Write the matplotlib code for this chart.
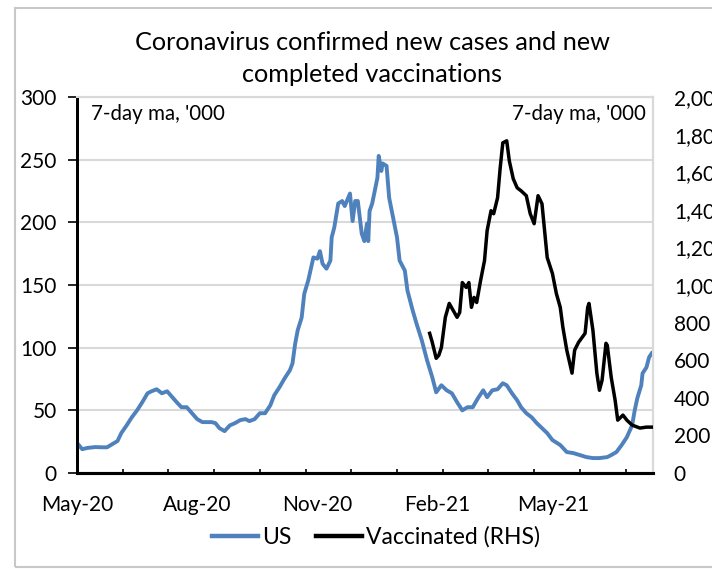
import matplotlib
matplotlib.use('Agg')
import matplotlib.pyplot as plt
import matplotlib.dates as mdates
import matplotlib.patches as patches
import numpy as np

plt.rcParams['font.family'] = ['Lato', 'DejaVu Sans']

# US new cases, 7-day ma, '000 (left axis)
us_dates = ['2020-05-01', '2020-05-05', '2020-05-09', '2020-05-15', '2020-05-20', '2020-05-24',
            '2020-05-28', '2020-06-01', '2020-06-04', '2020-06-08', '2020-06-12', '2020-06-16',
            '2020-06-20', '2020-06-24', '2020-06-27', '2020-07-01', '2020-07-05', '2020-07-09',
            '2020-07-13', '2020-07-17', '2020-07-20', '2020-07-24', '2020-07-28', '2020-08-01',
            '2020-08-05', '2020-08-08', '2020-08-12', '2020-08-15', '2020-08-18', '2020-08-22',
            '2020-08-26', '2020-08-30', '2020-09-03', '2020-09-07', '2020-09-10', '2020-09-14',
            '2020-09-18', '2020-09-22', '2020-09-26', '2020-09-29', '2020-10-03', '2020-10-07',
            '2020-10-11', '2020-10-13', '2020-10-15', '2020-10-17', '2020-10-20', '2020-10-22',
            '2020-10-25', '2020-10-29', '2020-11-01', '2020-11-03', '2020-11-05', '2020-11-08',
            '2020-11-11', '2020-11-12', '2020-11-14', '2020-11-17', '2020-11-20', '2020-11-22',
            '2020-11-26', '2020-11-28', '2020-11-30', '2020-12-02', '2020-12-05', '2020-12-07',
            '2020-12-09', '2020-12-10', '2020-12-11', '2020-12-13', '2020-12-17', '2020-12-18',
            '2020-12-20', '2020-12-21', '2020-12-24', '2020-12-26', '2020-12-29', '2021-01-01',
            '2021-01-03', '2021-01-07', '2021-01-09', '2021-01-13', '2021-01-16', '2021-01-20',
            '2021-01-24', '2021-01-28', '2021-01-31', '2021-02-04', '2021-02-08', '2021-02-12',
            '2021-02-16', '2021-02-20', '2021-02-24', '2021-02-28', '2021-03-04', '2021-03-08',
            '2021-03-11', '2021-03-15', '2021-03-19', '2021-03-23', '2021-03-26', '2021-03-30',
            '2021-04-03', '2021-04-06', '2021-04-10', '2021-04-14', '2021-04-18', '2021-04-22',
            '2021-04-26', '2021-04-30', '2021-05-06', '2021-05-11', '2021-05-16', '2021-05-21',
            '2021-05-26', '2021-05-31', '2021-06-05', '2021-06-11', '2021-06-14', '2021-06-18',
            '2021-06-22', '2021-06-26', '2021-06-30', '2021-07-02', '2021-07-04', '2021-07-07',
            '2021-07-08', '2021-07-11', '2021-07-13', '2021-07-15']
us_cases = [24, 19, 20, 20.7, 20.5, 20.5,
            23, 25.5, 32, 38, 44.5, 50,
            56.5, 63.6, 65.2, 66.8, 63.6, 65.2,
            60.5, 55.7, 52.5, 52.5, 47.7, 43,
            40.6, 40.6, 40.6, 39.8, 35.8, 33.4,
            38, 39.8, 42.2, 43, 41.4, 43,
            47.7, 47.7, 54, 62, 68.4, 75.6,
            82, 87.5, 103, 114, 124, 143,
            153.5, 172, 171, 177, 167, 163,
            169.5, 188, 196, 215, 217, 213,
            223, 201, 217, 217, 191, 185,
            199, 185, 209, 215, 235.5, 253,
            241, 247, 245, 219.6, 203.7, 188,
            169.5, 161.5, 145.6, 129.7, 119, 105.8,
            90, 76.4, 64.4, 70, 66, 63.6,
            56.5, 50, 52.5, 52.5, 59.7, 66,
            60.5, 66, 66.8, 71.6, 70, 63.6,
            58, 52.5, 47.7, 44.5, 39.8, 35.8,
            31.8, 26.3, 22.3, 16.7, 15.9, 14.3,
            12.7, 11.9, 11.9, 12.7, 14.3, 16.7,
            22.3, 28.6, 38, 50, 59.7, 70,
            79.5, 84.3, 92.3, 95.5]

# New completed vaccinations, 7-day ma, '000 (right axis)
vac_dates = ['2021-01-26', '2021-01-28', '2021-01-31', '2021-02-02', '2021-02-04', '2021-02-07',
             '2021-02-10', '2021-02-13', '2021-02-16', '2021-02-18', '2021-02-20', '2021-02-23',
             '2021-02-25', '2021-02-27', '2021-03-01', '2021-03-03', '2021-03-06', '2021-03-09',
             '2021-03-11', '2021-03-14', '2021-03-16', '2021-03-19', '2021-03-21', '2021-03-23',
             '2021-03-26', '2021-03-28', '2021-03-31', '2021-04-03', '2021-04-06', '2021-04-10',
             '2021-04-13', '2021-04-16', '2021-04-19', '2021-04-22', '2021-04-24', '2021-04-26',
             '2021-04-30', '2021-05-03', '2021-05-06', '2021-05-08', '2021-05-11', '2021-05-15',
             '2021-05-17', '2021-05-20', '2021-05-25', '2021-05-27', '2021-05-28', '2021-05-31',
             '2021-06-03', '2021-06-05', '2021-06-07', '2021-06-10', '2021-06-11', '2021-06-14',
             '2021-06-17', '2021-06-19', '2021-06-23', '2021-06-26', '2021-06-30', '2021-07-06',
             '2021-07-11', '2021-07-16']
vaccinated = [743, 695, 610, 626, 668, 828,
              902, 865, 828, 854, 1013, 987,
              1013, 881, 934, 907, 1024, 1130,
              1289, 1395, 1379, 1464, 1623, 1756,
              1767, 1660, 1565, 1517, 1501, 1475,
              1379, 1326, 1475, 1432, 1289, 1146,
              1061, 955, 881, 775, 653, 531,
              653, 695, 743, 881, 902, 759,
              531, 440, 493, 690, 679, 509,
              387, 281, 308, 281, 255, 239,
              244, 244]

x_labels = ['May-20', 'Aug-20', 'Nov-20', 'Feb-21', 'May-21']
label_dates = ['2020-05-01', '2020-08-01', '2020-11-01', '2021-02-01', '2021-05-01']

us_x = np.array(us_dates, dtype='datetime64[D]')
vac_x = np.array(vac_dates, dtype='datetime64[D]')
start = np.datetime64('2020-05-01')
end = np.datetime64('2021-07-16')

fig = plt.figure(figsize=(7.12, 5.69), dpi=100)
ax = fig.add_axes([77 / 712, 96 / 569, 576 / 712, 376 / 569])
ax2 = ax.twinx()

ax.plot(us_x, us_cases, color='#4F81BD', lw=2.8, label='US', zorder=3)
ax2.plot(vac_x, vaccinated, color='black', lw=2.5, label='Vaccinated (RHS)', zorder=3)

ax.set_xlim(start, end)
ax.set_ylim(0, 300)
ax.set_yticks(np.arange(0, 301, 50))
ax2.set_ylim(0, 2000)
ax2.set_yticks(np.arange(0, 2001, 200))
ax2.set_yticklabels(['{:,}'.format(v) for v in range(0, 2001, 200)])

ax.set_xticks(np.array(label_dates, dtype='datetime64[D]'))
ax.set_xticklabels(x_labels)
ax.set_xticks(np.arange(start, end, np.timedelta64(35, 'D')), minor=True)

ax.grid(axis='y', color='#d9d9d9', lw=1.5, zorder=0)
ax.set_axisbelow(True)

for a in (ax, ax2):
    a.spines['top'].set_color('#d9d9d9')
    a.spines['top'].set_linewidth(1.5)
    a.spines['right'].set_color('#d9d9d9')
    a.spines['right'].set_linewidth(1.5)
    a.spines['left'].set_linewidth(2)
    a.spines['bottom'].set_linewidth(2.2)

ax.tick_params(axis='y', labelsize=15, length=6.5, width=1.2, pad=8)
ax.tick_params(axis='x', which='major', labelsize=15, length=0, pad=16)
ax.tick_params(axis='x', which='minor', length=3, width=1.2, direction='in')
ax2.tick_params(axis='y', labelsize=15, length=0, pad=15)

ax.text(0.025, 0.955, "7-day ma, '000", transform=ax.transAxes, fontsize=14.8,
        ha='left', va='center')
ax.text(0.987, 0.955, "7-day ma, '000", transform=ax.transAxes, fontsize=14.8,
        ha='right', va='center')

fig.text(372 / 712, 1 - 43 / 569, 'Coronavirus confirmed new cases and new',
         fontsize=18.2, ha='center', va='center')
fig.text(372 / 712, 1 - 75 / 569, 'completed vaccinations',
         fontsize=18.2, ha='center', va='center')

h1, l1 = ax.get_legend_handles_labels()
h2, l2 = ax2.get_legend_handles_labels()
leg = fig.legend(h1 + h2, l1 + l2, loc='center', bbox_to_anchor=(376 / 712, 1 - 537 / 569),
                 ncol=2, frameon=False, fontsize=16.5, handlelength=2.0, handletextpad=0.15,
                 columnspacing=1.1)
for line in leg.get_lines():
    line.set_linewidth(3.2)

fig.patches.append(patches.Rectangle((15 / 712, 2 / 569), 0.99, 559 / 569, transform=fig.transFigure,
                                     fill=False, edgecolor='#c8c8c8', lw=1.5))

fig.savefig('out.png', dpi=100)
